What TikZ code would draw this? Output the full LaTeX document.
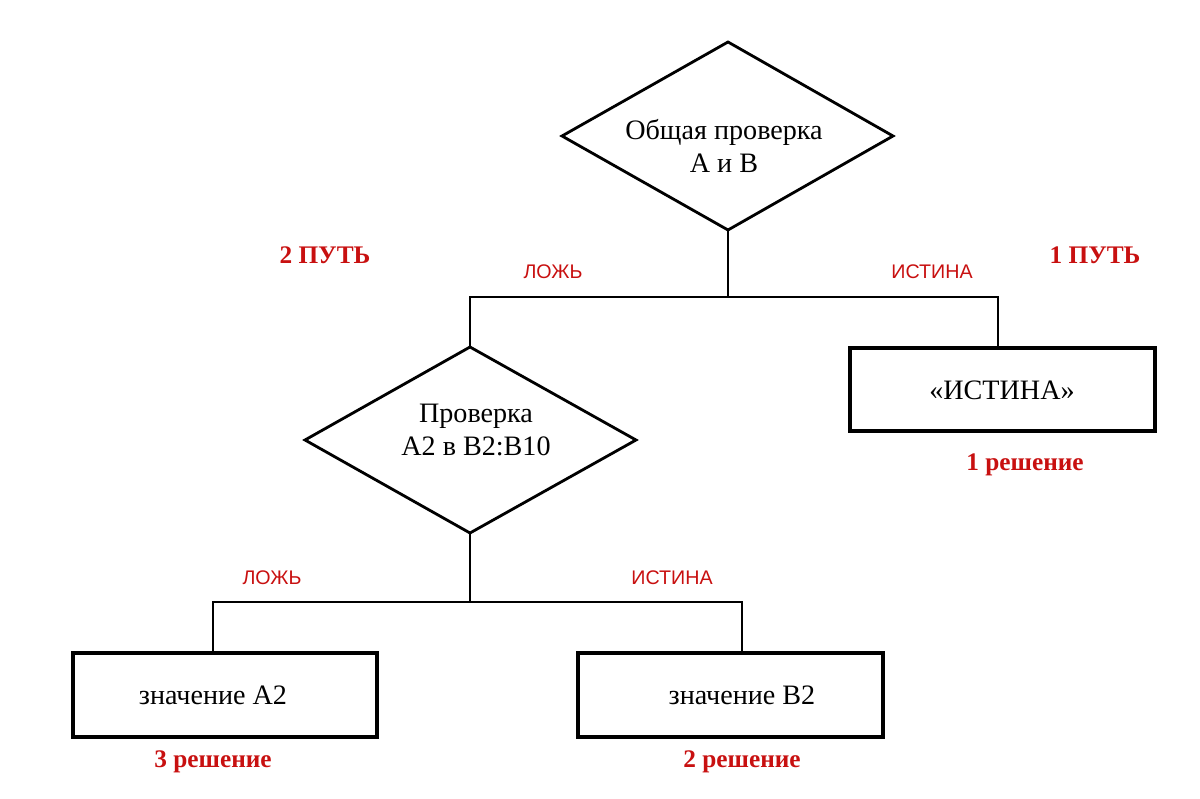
\documentclass[tikz,border=0pt]{standalone}
\usepackage{fontspec}
\setmainfont{Liberation Serif}
\newfontfamily\arialf{Liberation Sans}
\definecolor{lbl}{RGB}{200,16,16}
\begin{document}
\begin{tikzpicture}[x=0.025cm,y=-0.025cm,
  dia/.style={draw,line width=2pt},
  box/.style={draw,line width=2.8pt},
  conn/.style={line width=0.9pt},
  main/.style={font=\fontsize{20}{24}\selectfont,align=center},
  small/.style={text=lbl,font=\arialf\fontsize{14}{16}\selectfont},
  big/.style={text=lbl,font=\bfseries\fontsize{18}{21}\selectfont}]
\useasboundingbox (0,0) rectangle (1200,799);
% diamond 1
\draw[dia] (562,136) -- (728,42) -- (893,136) -- (728,230) -- cycle;
\coordinate (d1b) at (728,230);
\node[main] (d1) at (724,146) {Общая проверка\\А и В};
% diamond 2
\draw[dia] (305,440) -- (470,347) -- (636,440) -- (470,533) -- cycle;
\coordinate (d2t) at (470,347); \coordinate (d2b) at (470,533);
\node[main] (d2) at (476,430) {Проверка\\А2 в В2:В10};
% boxes
\draw[box] (850,348) rectangle (1155,431);
\node[main] (r1) at (1002,390) {«ИСТИНА»};
\coordinate (r1t) at (998,348);
\draw[box] (73,653) rectangle (377,737);
\node[main] (ra) at (213,695) {значение А2};
\coordinate (rat) at (213,653);
\draw[box] (578,653) rectangle (883,737);
\node[main] (rb) at (742,695) {значение В2};
\coordinate (rbt) at (742,653);
% connectors
\coordinate (j1) at (728,297); \coordinate (jl1) at (470,297); \coordinate (jr1) at (998,297);
\draw[conn] (d1b) -- (j1);
\draw[conn] (d2t) -- (jl1) -- (jr1) -- (r1t);
\coordinate (j2) at (470,602); \coordinate (jl2) at (213,602); \coordinate (jr2) at (742,602);
\draw[conn] (d2b) -- (j2);
\draw[conn] (rat) -- (jl2) -- (jr2) -- (rbt);
% labels
\node[big] (p2) at (325,255) {2 ПУТЬ};
\node[big] (p1) at (1095,255) {1 ПУТЬ};
\node[small] (l1) at (553,272) {ЛОЖЬ};
\node[small] (i1) at (932,272) {ИСТИНА};
\node[big] (s1) at (1025,465) {1 решение};
\node[small] (l2) at (272,578) {ЛОЖЬ};
\node[small] (i2) at (672,578) {ИСТИНА};
\node[big] (s3) at (213,762) {3 решение};
\node[big] (s2) at (742,762) {2 решение};
\end{tikzpicture}
\end{document}
